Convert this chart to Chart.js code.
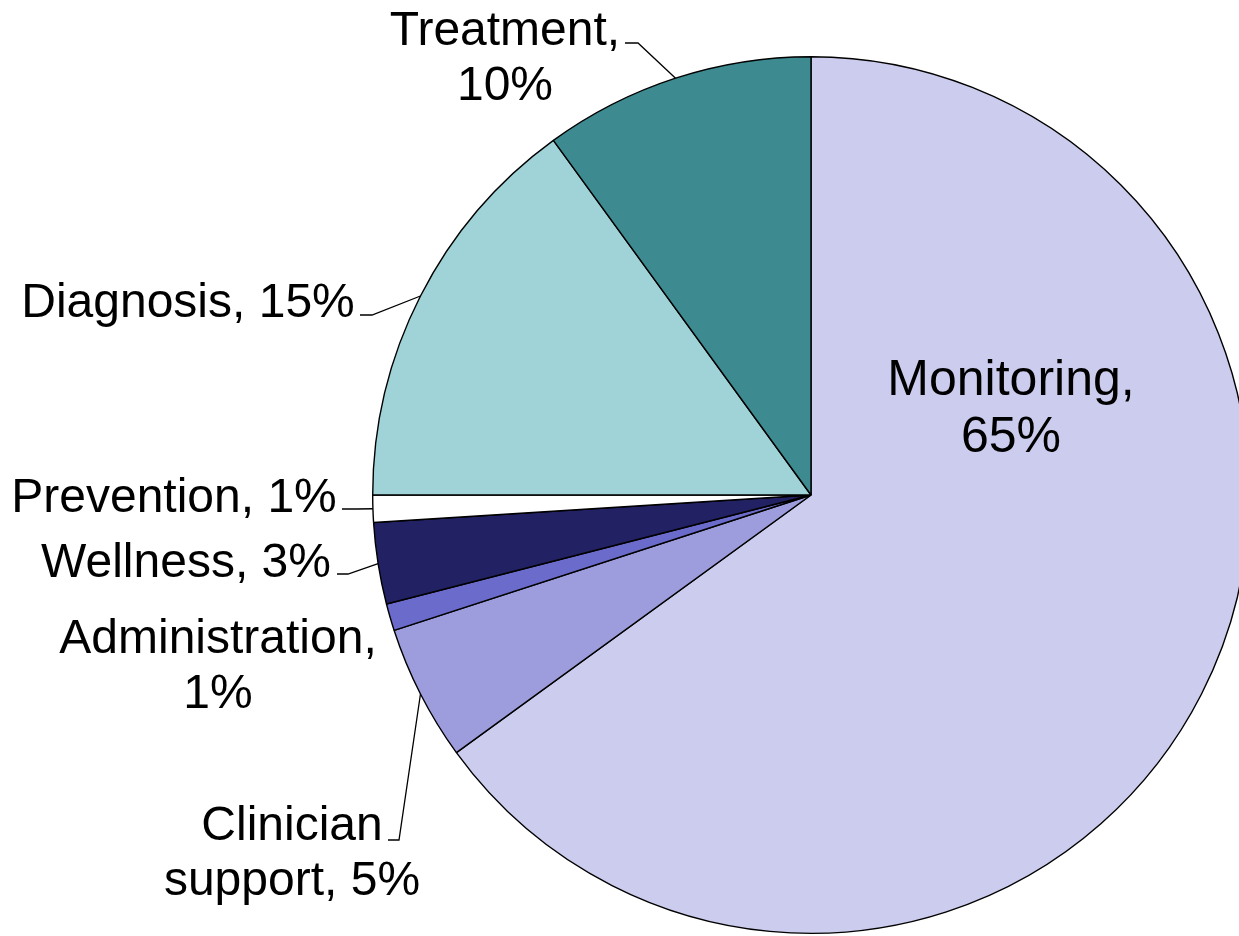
<!DOCTYPE html>
<html>
<head>
<meta charset="utf-8">
<script src="https://cdn.jsdelivr.net/npm/chart.js@4/dist/chart.umd.min.js"></script>
<style>
  html, body { margin: 0; padding: 0; background: #fff; overflow: hidden; width: 1239px; height: 936px; }
  #wrap { position: absolute; left: 0; top: 0; width: 1260px; height: 936px; }
</style>
</head>
<body>
<div id="wrap"><canvas id="c"></canvas></div>
<script>
// ---- data ----
const categories = ["Monitoring", "Clinician support", "Administration", "Wellness", "Prevention", "Diagnosis", "Treatment"];
const values = [65, 5, 1, 3, 1, 15, 10];
const colors = ["#CCCCEE", "#9D9DDD", "#6B6BCB", "#212163", "#FFFFFF", "#9FD3D7", "#3D8B91"];
const labelLines = [
  ["Monitoring,", "65%"],
  ["Clinician", "support, 5%"],
  ["Administration,", "1%"],
  ["Wellness, 3%"],
  ["Prevention, 1%"],
  ["Diagnosis, 15%"],
  ["Treatment,", "10%"]
];

// ---- label layout (placement only) ----
// cx: text center x, by: first baseline y, size: font px, lh: line height, leader: [endX, endY, elbowX] or null
const labelLayout = [
  { cx: 1011, by: 395, size: 50, lh: 57, leader: null },
  { cx: 292, by: 840, size: 48, lh: 55, leader: [388, 840, 399] },
  { cx: 218, by: 653, size: 48, lh: 55, leader: null },
  { cx: 186, by: 577, size: 48, lh: 55, leader: [337, 574, 348] },
  { cx: 174, by: 512, size: 48, lh: 55, leader: [342, 509, 357] },
  { cx: 188, by: 317, size: 48, lh: 55, leader: [360, 315, 372] },
  { cx: 505, by: 45, size: 48, lh: 55, leader: [625, 43, 638] }
];

const labelPlugin = {
  id: 'pieLabels',
  afterDatasetsDraw(chart) {
    const ctx = chart.ctx;
    const meta = chart.getDatasetMeta(0);
    ctx.save();
    meta.data.forEach((arc, i) => {
      const p = arc.getProps(['x', 'y', 'startAngle', 'endAngle', 'outerRadius'], true);
      const mid = (p.startAngle + p.endAngle) / 2;
      const ax = p.x + p.outerRadius * Math.cos(mid);
      const ay = p.y + p.outerRadius * Math.sin(mid);
      const lay = labelLayout[i];
      if (lay.leader) {
        ctx.beginPath();
        ctx.strokeStyle = '#000';
        ctx.lineWidth = 1.3;
        ctx.moveTo(ax, ay);
        ctx.lineTo(lay.leader[2], lay.leader[1]);
        ctx.lineTo(lay.leader[0], lay.leader[1]);
        ctx.stroke();
      }
      ctx.fillStyle = '#000';
      ctx.font = lay.size + 'px "Liberation Sans", Arial, sans-serif';
      ctx.textAlign = 'center';
      ctx.textBaseline = 'alphabetic';
      labelLines[i].forEach((t, k) => {
        ctx.fillText(t, lay.cx, lay.by + k * lay.lh);
      });
    });
    ctx.restore();
  }
};

new Chart(document.getElementById('c'), {
  type: 'pie',
  data: {
    labels: categories,
    datasets: [{
      data: values,
      backgroundColor: colors,
      borderColor: '#000',
      borderWidth: 1.4,
      hoverOffset: 0
    }]
  },
  options: {
    responsive: true,
    maintainAspectRatio: false,
    animation: false,
    events: [],
    layout: { padding: { left: 372, right: 10, top: 56, bottom: 2 } },
    plugins: { legend: { display: false }, tooltip: { enabled: false } }
  },
  plugins: [labelPlugin]
});
</script>
</body>
</html>
